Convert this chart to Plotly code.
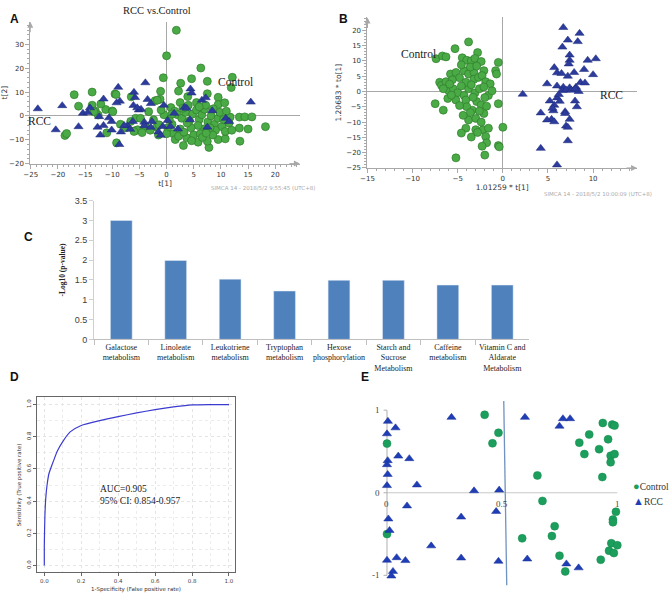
import plotly.graph_objects as go

W, H = 669, 602

# ---------------- Panel A: PCA scores (t[1] vs t[2]) ----------------
a_control = [
    (1.8, 35.9), (0.0, 25.2), (6.3, 20.1), (12.1, 16.2), (-0.6, 16.0), (7.5, 14.5), (2.6, 13.7),
    (4.6, 15.6), (11.9, 11.9), (-17.0, 8.9), (-13.7, 10.0), (-9.5, 9.2), (-16.2, 4.1), (-13.7, 4.5),
    (-1.1, 10.3), (2.2, 10.4), (3.9, 8.1), (7.5, 9.3), (9.5, 7.8), (9.5, 4.8), (10.7, 5.5), (2.5, 5.6),
    (5.5, 5.6), (-11.2, 2.7), (-10.0, 2.1), (-12.1, 5.0), (-13.1, 2.1), (-2.1, 6.4), (-1.2, 7.0),
    (-18.7, -8.2), (-18.4, -7.4), (-9.2, -11.3), (3.1, -12.4), (3.7, -9.2), (7.8, -13.2), (5.8, -11.0),
    (7.5, -10.6), (9.5, -9.9), (10.8, -9.6), (13.5, -10.6), (13.4, -5.1), (15.0, -5.5), (18.2, -4.5),
    (13.4, -0.5), (14.4, -0.4), (15.7, -0.4), (11.7, -0.5), (-5.8, -6.2), (-5.3, -5.8), (1.2, -7.4),
    (1.6, -9.9), (-1.8, -4.7), (0.2, -5.0), (-6.6, -2.3), (-5.7, -1.0), (-4.8, -1.0), (-3.9, -4.4),
    (-3.3, 1.8), (-2.4, -1.6), (-1.4, -3.7), (-1.7, 6.6), (-6.5, 8.0), (-9.9, 1.8), (-11.0, -7.1),
    (-6.0, -6.5), (-12.6, 0.4), (-13.4, 1.8), (-9.3, 9.0), (0.8, 3.5), (1.5, 2.0), (2.0, 0.5),
    (2.8, -1.0), (3.5, 1.5), (4.2, -2.0), (4.8, 0.8), (5.5, 2.5), (6.0, -1.5), (6.5, 0.5), (7.0, 2.8),
    (7.6, -2.5), (8.2, 0.0), (8.8, -3.5), (9.5, -1.0), (10.2, -4.5), (10.8, -6.5), (9.0, -6.0),
    (8.0, -5.0), (6.8, -5.5), (5.8, -4.0), (4.5, -5.0), (3.8, -3.0), (2.5, -5.5), (1.0, -3.5),
    (0.5, -1.5), (-0.5, 0.5), (-1.0, 2.5), (0.0, -7.5), (2.2, -8.5), (5.0, -8.0), (6.2, -7.5),
    (8.5, -8.0), (11.5, -3.0), (12.0, -6.0), (7.2, 4.5), (8.6, 3.0), (6.0, 3.8), (3.0, 3.2),
    (4.0, 4.5), (9.8, 1.5), (11.0, 2.0), (10.5, -1.5), (-3.0, -6.0), (-4.5, -7.0), (-1.5, -8.0),
    (-7.5, -5.0), (-8.5, -3.5), (4.6, -10.4), (6.6, -9.0), (1.0, 0.8), (3.2, -6.8), (7.3, -7.2),
]
a_rcc = [
    (-23.7, 3.0), (-19.2, 4.3), (-20.4, -5.8), (-16.2, -4.5), (-15.4, 1.1), (-14.5, 1.4), (-14.1, 3.4),
    (-12.4, -0.3), (-12.7, -4.7), (-12.2, -8.0), (-11.6, -4.0), (-11.6, 7.1), (-8.9, 12.0), (-8.6, 6.2),
    (-9.2, 5.5), (-8.4, -6.7), (-8.7, -12.0), (-10.1, -5.9), (-10.1, -2.3), (-10.6, -0.8), (-6.0, 9.9),
    (-5.8, 7.7), (-6.1, 4.4), (-5.1, 2.5), (-4.7, 2.8), (-5.4, 3.4), (-3.9, 13.9), (-3.5, 6.9),
    (-2.9, 5.2), (-4.1, -2.6), (-4.1, -4.1), (-2.7, -2.3), (-2.9, -4.8), (-1.5, -6.7), (-1.1, -8.1),
    (-0.7, -4.4), (0.2, -1.9), (0.7, -4.4), (2.1, -5.5), (1.4, 1.1), (-0.5, 4.5), (4.4, 11.3),
    (4.6, 9.6), (4.3, -1.6), (3.3, 3.6), (3.7, 3.2), (6.5, 6.6), (7.2, 7.6), (8.4, 2.2), (7.5, -4.7),
    (10.9, -1.0), (11.5, -2.3), (15.5, 5.8), (-7.2, -4.1), (-7.8, -4.0), (-6.7, -5.6), (-6.2, -2.3),
]

# ---------------- Panel B: OPLS-DA scores ----------------
b_control = [
    (-3.8, 16.2), (-5.3, 14.0), (-7.4, 10.7), (-6.7, 11.6), (-6.3, 11.3), (-2.8, 12.7), (-0.5, 9.5),
    (-0.8, 6.8), (-0.7, 5.7), (-4.5, 11.0), (-4.0, 10.2), (-3.5, 10.0), (-3.1, 10.8), (-2.4, 9.8),
    (-2.1, 6.8), (-7.0, 3.0), (-6.8, 2.0), (-6.3, 3.2), (-5.8, 5.7), (-5.2, 6.2), (-4.8, 4.5),
    (-4.3, 6.8), (-3.8, 5.7), (-3.2, 6.2), (-3.2, 4.0), (-2.7, 4.6), (-2.3, 5.2), (-1.9, 3.2),
    (-1.4, 2.5), (-6.0, 0.3), (-5.5, 0.9), (-5.0, -0.4), (-4.3, -1.3), (-3.8, 0.9), (-3.1, -0.5),
    (-2.6, 0.9), (-2.1, 1.5), (-1.6, -1.3), (-7.5, -4.0), (-6.6, -6.1), (-6.1, -2.3), (-5.2, -2.8),
    (-4.1, -2.8), (-3.4, -6.1), (-2.9, -3.3), (-2.4, -4.4), (-2.1, -7.2), (-0.5, -4.0), (-3.8, -9.3),
    (-3.0, -8.8), (-4.1, -12.0), (-3.0, -12.5), (-2.2, -12.5), (-1.6, -12.0), (0.0, -11.7),
    (-4.6, -13.6), (-3.5, -14.9), (-2.8, -13.4), (-1.9, -14.7), (-1.8, -16.8), (-2.3, -17.9),
    (-2.0, -20.8), (-0.5, -17.7), (-0.4, -18.1), (-5.2, -21.7), (-4.6, 8.7), (-3.6, 8.0),
    (-2.9, 8.3), (-5.6, 3.8), (-4.1, 3.0), (-3.5, 2.2), (-4.6, 1.8), (-5.9, 2.4), (-6.6, 0.9),
    (-4.0, -5.0), (-4.8, -4.6), (-1.8, -4.8), (-2.6, -6.4), (-3.6, -6.9), (-2.4, -10.0),
    (-1.2, 0.2), (-2.0, -2.0), (-3.3, -1.9), (-5.7, -1.2), (-4.4, -7.8),
]
b_rcc = [
    (2.2, -0.9), (6.7, 20.9), (8.5, 19.0), (7.2, 16.8), (8.3, 16.3), (6.6, 14.5), (7.4, 11.9),
    (7.4, 10.2), (10.3, 10.7), (9.4, 10.2), (9.0, 7.2), (10.0, 5.5), (5.7, 7.8), (6.0, 6.1),
    (6.5, 5.9), (7.9, 6.2), (7.2, 5.0), (4.9, 2.5), (6.0, 1.8), (6.7, 1.4), (7.4, 1.2), (8.1, 1.4),
    (8.6, 2.9), (9.1, 2.8), (6.6, 0.3), (7.0, 0.5), (7.6, 0.4), (8.4, 0.0), (4.2, -7.0), (5.2, -3.1),
    (6.0, -2.1), (6.3, -3.2), (5.7, -4.5), (5.6, -6.3), (5.4, -9.1), (4.9, -9.3), (5.7, -9.9),
    (6.9, -6.6), (8.2, -5.0), (7.4, -9.1), (7.0, -11.3), (7.2, -11.7), (8.0, -3.1), (7.2, -16.1),
    (4.2, -18.6), (6.0, -24.0), (6.9, -7.2), (7.3, 9.0), (5.5, -5.5), (6.2, -1.0), (8.0, 0.8),
]

# ---------------- Panel C: pathway enrichment ----------------
pathways = [
    "Galactose<br>metabolism", "Linoleate<br>metabolism", "Leukotriene<br>metabolism",
    "Tryptophan<br>metabolism", "Hexose<br>phosphorylation", "Starch and<br>Sucrose<br>Metabolism",
    "Caffeine<br>metabolism", "Vitamin C and<br>Aldarate<br>Metabolism",
]
neg_log10_p = [3.0, 1.99, 1.52, 1.22, 1.49, 1.49, 1.37, 1.37]

# ---------------- Panel D: ROC curve ----------------
roc_fpr = [0.0, 0.0, 0.003, 0.008, 0.015, 0.025, 0.04, 0.05, 0.07, 0.1, 0.14, 0.2, 0.3, 0.4,
           0.5, 0.6, 0.7, 0.8, 0.9, 1.0]
roc_tpr = [0.0, 0.12, 0.3, 0.42, 0.5, 0.57, 0.62, 0.65, 0.71, 0.77, 0.83, 0.87, 0.9, 0.925,
           0.948, 0.968, 0.985, 0.998, 1.0, 1.0]

# ---------------- Panel E ----------------
e_control = [
    (0.0, 0.595), (0.0, -0.5), (0.424, 0.944), (0.484, 0.726), (0.458, 0.599), (0.937, 0.845),
    (0.978, 0.825), (0.988, 0.813), (0.878, 0.706), (0.835, 0.607), (0.96, 0.647), (0.921, 0.528),
    (0.857, 0.468), (0.971, 0.448), (0.988, 0.468), (0.971, 0.369), (0.653, 0.21), (0.935, 0.19),
    (0.675, -0.099), (0.994, -0.23), (0.981, -0.325), (0.981, -0.357), (0.728, -0.405),
    (0.716, -0.524), (0.587, -0.552), (0.974, -0.611), (1.0, -0.635), (0.964, -0.702),
    (0.985, -0.73), (0.749, -0.762), (0.928, -0.81), (0.774, -0.952),
]
e_rcc = [
    (0.004, 0.865), (0.037, 0.786), (0.0, 0.714), (0.049, 0.444), (0.097, 0.413), (0.003, 0.389),
    (0.0, 0.34), (0.003, 0.222), (0.0, 0.087), (0.13, 0.095), (0.087, -0.159), (0.006, -0.317),
    (0.011, -0.456), (0.192, -0.643), (0.0, -0.817), (0.042, -0.786), (0.08, -0.821),
    (0.026, -0.952), (0.019, -1.008), (0.28, 0.913), (0.378, 0.024), (0.322, -0.294),
    (0.322, -0.79), (0.599, 0.913), (0.764, 0.897), (0.795, 0.897), (0.749, 0.806), (0.487, 0.032),
    (0.474, -0.226), (0.484, -0.829), (0.609, -0.802), (0.779, -0.861), (0.832, -0.909),
]
e_split_x = [0.507, 0.52]
e_split_y = [1.11, -1.12]
e_xticks = [0, 0.5, 1]
e_xtick_text = ["0", "0.5", "1"]
e_yticks = [1, 0, -1]
e_ytick_text = ["1", "0", "-1"]
e_legend = ["Control", "RCC"]


def xs(pts):
    return [p[0] for p in pts]


def ys(pts):
    return [p[1] for p in pts]


def dx(p0, p1):
    return [p0 / W, p1 / W]


def dy(top, bottom):
    return [1 - bottom / H, 1 - top / H]


GREEN = "#4aaa45"
GREEN_LINE = "#2f7d2d"
BLUE = "#2d3c9c"
BLUE_LINE = "#1b2878"
E_GREEN = "#1c9e5c"
E_BLUE = "#1f3db5"
SERIF = "Liberation Serif"
SANS = "DejaVu Sans"
AXC = "#a8a8a8"

fig = go.Figure()

# A
fig.add_trace(go.Scatter(x=xs(a_control), y=ys(a_control), mode="markers", xaxis="x", yaxis="y",
                         marker=dict(symbol="circle", size=8, color=GREEN,
                                     line=dict(color=GREEN_LINE, width=0.7)), showlegend=False))
fig.add_trace(go.Scatter(x=xs(a_rcc), y=ys(a_rcc), mode="markers", xaxis="x", yaxis="y",
                         marker=dict(symbol="triangle-up", size=8, color=BLUE,
                                     line=dict(color=BLUE_LINE, width=0.5)), showlegend=False))
# B
fig.add_trace(go.Scatter(x=xs(b_control), y=ys(b_control), mode="markers", xaxis="x2", yaxis="y2",
                         marker=dict(symbol="circle", size=8, color=GREEN,
                                     line=dict(color=GREEN_LINE, width=0.7)), showlegend=False))
fig.add_trace(go.Scatter(x=xs(b_rcc), y=ys(b_rcc), mode="markers", xaxis="x2", yaxis="y2",
                         marker=dict(symbol="triangle-up", size=8, color=BLUE,
                                     line=dict(color=BLUE_LINE, width=0.5)), showlegend=False))
# C
fig.add_trace(go.Bar(x=pathways, y=neg_log10_p, xaxis="x3", yaxis="y3", marker_color="#4f81bd",
                     width=0.4, showlegend=False))
# D
fig.add_trace(go.Scatter(x=roc_fpr, y=roc_tpr, mode="lines", xaxis="x4", yaxis="y4",
                         line=dict(color="#3b3bd0", width=1.2, shape="spline", smoothing=0.6),
                         showlegend=False))
# E
fig.add_trace(go.Scatter(x=e_split_x, y=e_split_y, mode="lines", xaxis="x5", yaxis="y5",
                         line=dict(color="#7092c0", width=1.3), showlegend=False))
fig.add_trace(go.Scatter(x=xs(e_control), y=ys(e_control), mode="markers", xaxis="x5", yaxis="y5",
                         name="Control", showlegend=False,
                         marker=dict(symbol="circle", size=8, color=E_GREEN,
                                     line=dict(color="#168a4f", width=0.5))))
fig.add_trace(go.Scatter(x=xs(e_rcc), y=ys(e_rcc), mode="markers", xaxis="x5", yaxis="y5",
                         name="RCC", showlegend=False,
                         marker=dict(symbol="triangle-up", size=8, color=E_BLUE,
                                     line=dict(color="#18309a", width=0.5))))

tickf = dict(family=SANS, size=7, color="#333")
simca_axis = dict(showline=True, linecolor=AXC, linewidth=1, ticks="outside", ticklen=4,
                  tickcolor=AXC, showgrid=False, zeroline=True, zerolinecolor=AXC,
                  zerolinewidth=1, tickfont=tickf)

layout = dict(
    width=W, height=H, autosize=False, margin=dict(l=0, r=0, t=0, b=0),
    paper_bgcolor="white", plot_bgcolor="rgba(0,0,0,0)", showlegend=False,
    # A
    xaxis=dict(domain=dx(23.5, 296), range=[-25.09, 24.54], anchor="y", dtick=5, tick0=-25,
               minor=dict(dtick=1, ticklen=2, tickcolor=AXC, ticks="outside"),
               title=dict(text="t[1]", font=dict(family=SANS, size=7.5, color="#333"), standoff=2),
               **simca_axis),
    yaxis=dict(domain=dy(17, 161.3), range=[-20, 39.5], anchor="x", dtick=10, tick0=0,
               minor=dict(dtick=2, ticklen=2, tickcolor=AXC, ticks="outside"),
               title=dict(text="t[2]", font=dict(family=SANS, size=7.5, color="#333"), standoff=3),
               **simca_axis),
    # B
    xaxis2=dict(domain=dx(364.3, 636.7), range=[-15, 14.87], anchor="y2", dtick=5, tick0=-15,
                minor=dict(dtick=1, ticklen=2, tickcolor=AXC, ticks="outside"),
                title=dict(text="1.01259 * t[1]", font=dict(family=SANS, size=7.5, color="#333"),
                           standoff=2),
                **simca_axis),
    yaxis2=dict(domain=dy(12.7, 165.7), range=[-25, 24.18], anchor="x2", dtick=5, tick0=0,
                minor=dict(dtick=1, ticklen=2, tickcolor=AXC, ticks="outside"),
                title=dict(text="1.20683 * to[1]", font=dict(family=SANS, size=7.5, color="#333"),
                           standoff=3),
                **simca_axis),
    # C
    xaxis3=dict(domain=dx(88, 528), anchor="y3", range=[-0.5, 7.5], showline=True,
                linecolor="#bfbfbf", ticks="outside", tickson="boundaries", ticklen=5,
                tickcolor="#bfbfbf", showgrid=False,
                tickfont=dict(family=SERIF, size=8, color="#222"), tickangle=0),
    yaxis3=dict(domain=dy(199, 340), anchor="x3", range=[0, 3.5], dtick=0.5, showline=True,
                linecolor="#d0d0d0", ticks="outside", ticklen=4, tickcolor="#d0d0d0",
                showgrid=False, zeroline=False,
                tickfont=dict(family="Liberation Sans", size=9, color="#404040"),
                title=dict(text="<b>-Log10 (p-value)</b>",
                           font=dict(family=SERIF, size=7.5, color="#222"), standoff=8)),
    # D
    xaxis4=dict(domain=dx(30.7, 230), anchor="y4", range=[-0.0375, 1.0305], showline=True,
                mirror=True, linecolor="#666", linewidth=1, ticks="outside", ticklen=3,
                tickcolor="#666", dtick=0.2, tick0=0, tickformat=".1f", showgrid=True,
                gridcolor="#e4e4e4", griddash="dot", zeroline=False,
                minor=dict(dtick=0.1, showgrid=True, gridcolor="#ececec", griddash="dot"),
                tickfont=dict(family=SANS, size=5.5, color="#444"),
                title=dict(text="1-Specificity (False positive rate)",
                           font=dict(family=SANS, size=5.5, color="#333"), standoff=4)),
    yaxis4=dict(domain=dy(399, 577), anchor="x4", range=[-0.0428, 1.0446], showline=True,
                mirror=True, linecolor="#666", linewidth=1, ticks="outside", ticklen=3,
                tickcolor="#666", dtick=0.2, tick0=0, tickformat=".1f", showgrid=True,
                gridcolor="#e4e4e4", griddash="dot", zeroline=False, tickangle=-90,
                minor=dict(dtick=0.1, showgrid=True, gridcolor="#ececec", griddash="dot"),
                tickfont=dict(family=SANS, size=5.5, color="#444"),
                title=dict(text="Sensitivity (True positive rate)",
                           font=dict(family=SANS, size=5.5, color="#333"), standoff=4)),
    # E
    xaxis5=dict(domain=dx(374, 627), anchor="y5", range=[-0.043, 1.044], visible=False),
    yaxis5=dict(domain=dy(400, 592), anchor="x5", range=[-1.143, 1.143], visible=False),
)
fig.update_layout(**layout)

ann = []


def text(x, y, s, size=10, family=SERIF, color="#222", bold=False, xanchor="center", **kw):
    ann.append(dict(x=x / W, y=1 - y / H, xref="paper", yref="paper",
                    text=f"<b>{s}</b>" if bold else s, showarrow=False, xanchor=xanchor,
                    yanchor="middle", font=dict(family=family, size=size, color=color), **kw))


# panel letters
for lab, lx, ly in [("A", 8, 14), ("B", 340, 14), ("C", 22, 236), ("D", 8, 378), ("E", 362, 378)]:
    text(lx, ly, lab, size=12, family="Liberation Sans", color="#111", bold=True)

text(152, 6, "RCC vs.Control", size=10.5)
text(231, 78, "Control", size=11.5)
text(33, 118, "RCC", size=11.5)
text(416, 50, "Control", size=11.5)
text(611, 92, "RCC", size=11.5)
text(259, 186, "SIMCA 14 - 2018/5/2 9:55:45 (UTC+8)", size=5.5, family=SANS, color="#aaa")
text(597, 192, "SIMCA 14 - 2018/5/2 10:00:09 (UTC+8)", size=5.5, family=SANS, color="#aaa")
text(92, 492, "AUC=0.905", size=9.5, xanchor="left")
text(92, 504, "95% CI: 0.854-0.957", size=9.5, xanchor="left")

# panel E legend (compact, as in the original)
for i, (lab, col, sym) in enumerate(zip(e_legend, [E_GREEN, E_BLUE], ["●", "▲"])):
    ann.append(dict(x=631 / W, y=1 - (489 + 15 * i) / H, xref="paper", yref="paper",
                    text=f"<span style='color:{col};font-size:11px'>{sym}</span>{lab}",
                    showarrow=False, xanchor="left", yanchor="middle",
                    font=dict(family=SERIF, size=9.5, color="#333")))

# arrows on SIMCA axes
for xr, yr, xe, ye, ax, ay in [("x", "y", 24.54, -20, -12, 0), ("x", "y", -25.09, 39.5, 0, 12),
                               ("x2", "y2", 14.87, -25, -12, 0), ("x2", "y2", -15, 24.18, 0, 12)]:
    ann.append(dict(x=xe, y=ye, xref=xr, yref=yr, ax=ax, ay=ay, text="", showarrow=True,
                    arrowhead=2, arrowsize=1.2, arrowwidth=1, arrowcolor=AXC))

# panel E tick labels
for v, t in zip(e_xticks, e_xtick_text):
    ann.append(dict(x=v, y=-0.05, xref="x5", yref="y5", text=t, showarrow=False, yanchor="top",
                    xanchor="center", font=dict(family=SERIF, size=9, color="#444")))
for v, t in zip(e_yticks, e_ytick_text):
    ann.append(dict(x=-0.02, y=v, xref="x5", yref="y5", text=t, showarrow=False, xanchor="right",
                    yanchor="middle", font=dict(family=SERIF, size=9, color="#444")))
fig.update_layout(annotations=ann)

# panel E axis lines
shapes = [
    dict(type="line", xref="x5", yref="y5", x0=0, x1=1, y0=0, y1=0,
         line=dict(color="#c8c8c8", width=1.2), layer="below"),
    dict(type="line", xref="x5", yref="y5", x0=0, x1=0, y0=-1, y1=1,
         line=dict(color="#b0b0b0", width=1), layer="below"),
]
for v in e_yticks:
    shapes.append(dict(type="line", xref="x5", yref="y5", x0=-0.015, x1=0, y0=v, y1=v,
                       line=dict(color="#b0b0b0", width=1), layer="below"))
fig.update_layout(shapes=shapes)

fig.write_html("out.html", config={"displayModeBar": False},
               post_script="document.body.style.margin='0';document.body.style.overflow='hidden';")
